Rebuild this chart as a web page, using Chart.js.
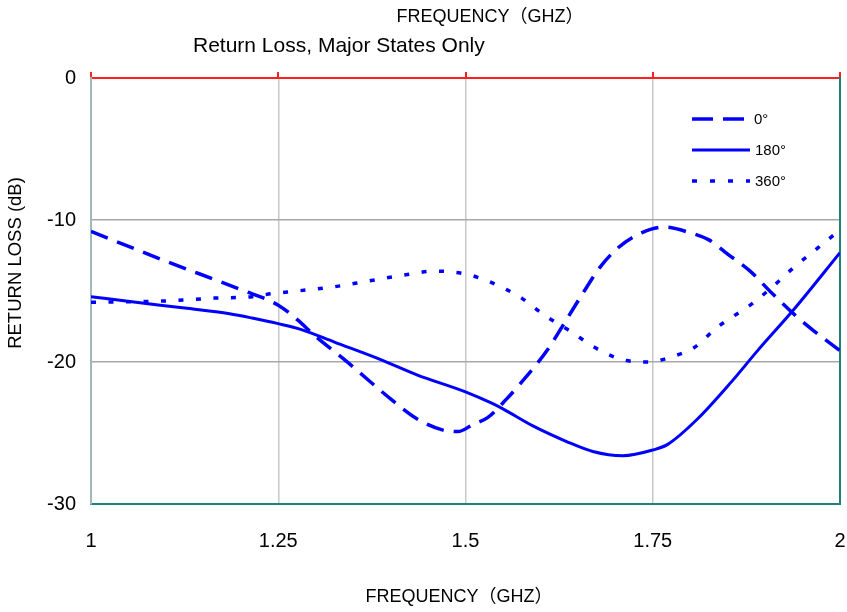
<!DOCTYPE html>
<html><head><meta charset="utf-8">
<script src="https://cdn.jsdelivr.net/npm/chart.js@4/dist/chart.umd.min.js"></script>
<style>html,body{margin:0;padding:0;background:#fff;}#wrap{width:847px;height:612px;}</style>
</head><body><div id="wrap"><canvas id="c" width="847" height="612"></canvas></div>
<script>
// ---- data ----
const seriesNames = ['0°', '180°', '360°'];
const xTickValues = [1, 1.25, 1.5, 1.75, 2];
const xTickLabels = ['1', '1.25', '1.5', '1.75', '2'];
const yTickValues = [-30, -20, -10, 0];
const yTickLabels = ['-30', '-20', '-10', '0'];

const freq0 = [1.0, 1.1, 1.2, 1.25, 1.275, 1.3, 1.34, 1.4, 1.435, 1.47, 1.49, 1.51, 1.53, 1.555, 1.58, 1.61, 1.635, 1.655, 1.68, 1.705, 1.735, 1.765, 1.8, 1.825, 1.85, 1.88, 1.91, 1.94, 1.965, 2.0];
const rl0   = [-10.8, -12.9, -14.9, -16.0, -17.0, -18.2, -19.9, -22.6, -24.0, -24.8, -24.9, -24.4, -23.9, -22.6, -21.1, -19.1, -17.0, -15.3, -13.3, -11.9, -10.9, -10.5, -10.9, -11.4, -12.4, -13.6, -15.2, -16.7, -17.8, -19.2];

const freq180 = [1.0, 1.06, 1.125, 1.185, 1.215, 1.25, 1.28, 1.325, 1.39, 1.435, 1.5, 1.535, 1.55, 1.59, 1.635, 1.67, 1.71, 1.75, 1.77, 1.81, 1.855, 1.89, 1.94, 2.0];
const rl180   = [-15.4, -15.8, -16.2, -16.6, -16.9, -17.3, -17.7, -18.6, -19.9, -20.9, -22.1, -22.9, -23.3, -24.5, -25.6, -26.3, -26.6, -26.2, -25.8, -24.0, -21.4, -19.2, -16.2, -12.3];

const freq360 = [1.0, 1.1, 1.165, 1.215, 1.24, 1.275, 1.325, 1.37, 1.415, 1.46, 1.5, 1.53, 1.555, 1.575, 1.595, 1.617, 1.636, 1.68, 1.715, 1.745, 1.777, 1.805, 1.835, 1.857, 1.88, 1.91, 1.937, 1.972, 2.0];
const rl360   = [-15.8, -15.7, -15.5, -15.4, -15.2, -15.0, -14.7, -14.3, -13.9, -13.6, -13.8, -14.3, -14.9, -15.5, -16.3, -17.1, -17.7, -19.2, -19.9, -20.0, -19.6, -19.0, -17.6, -16.8, -16.0, -14.7, -13.4, -11.9, -10.7];

const FONT = '"Liberation Sans", Arial, "Noto Sans CJK SC", sans-serif';
const pts = (xs, ys) => xs.map((x, i) => ({x: x, y: ys[i]}));

const legendPlugin = {
  id: 'customLegend',
  afterDatasetsDraw(chart) {
    const ctx = chart.ctx;
    const ys = [119, 150, 181];
    const dashes = [[21, 10], [], [5, 13]];
    chart.data.datasets.forEach((ds, i) => {
      ctx.save();
      ctx.strokeStyle = ds.borderColor;
      ctx.lineWidth = ds.borderWidth;
      ctx.setLineDash(dashes[i]);
      ctx.beginPath();
      ctx.moveTo(692, ys[i]);
      ctx.lineTo(i === 0 ? 745 : 750, ys[i]);
      ctx.stroke();
      ctx.setLineDash([]);
      ctx.fillStyle = '#000';
      ctx.font = '15px ' + FONT;
      ctx.textBaseline = 'middle';
      ctx.textAlign = 'left';
      ctx.fillText(ds.label, i === 0 ? 754 : 755, ys[i] + 1);
      ctx.restore();
    });
  }
};

const textPlugin = {
  id: 'texts',
  afterDraw(chart) {
    const ctx = chart.ctx;
    ctx.save();
    ctx.fillStyle = '#000';
    ctx.textBaseline = 'middle';
    ctx.textAlign = 'center';
    ctx.font = '18px ' + FONT;
    ctx.fillText('FREQUENCY（GHZ）', 490, 17);
    ctx.fillText('FREQUENCY（GHZ）', 459, 597);
    ctx.textAlign = 'left';
    ctx.font = '21px ' + FONT;
    ctx.fillText('Return Loss, Major States Only', 193, 46);
    ctx.translate(16, 263);
    ctx.rotate(-Math.PI / 2);
    ctx.textAlign = 'center';
    ctx.font = '18.5px ' + FONT;
    ctx.fillText('RETURN LOSS (dB)', 0, 0);
    ctx.restore();
  }
};

new Chart(document.getElementById('c'), {
  type: 'line',
  data: {
    datasets: [
      {label: seriesNames[0], data: pts(freq0, rl0), borderColor: '#0000ff', borderWidth: 3.5, borderDash: [18, 10], pointRadius: 0, cubicInterpolationMode: 'monotone', fill: false},
      {label: seriesNames[1], data: pts(freq180, rl180), borderColor: '#0000ff', borderWidth: 3, pointRadius: 0, cubicInterpolationMode: 'monotone', fill: false},
      {label: seriesNames[2], data: pts(freq360, rl360), borderColor: '#0000ff', borderWidth: 3.5, borderDash: [5, 12.5], pointRadius: 0, cubicInterpolationMode: 'monotone', fill: false}
    ]
  },
  options: {
    responsive: false,
    animation: false,
    devicePixelRatio: 1,
    layout: {padding: {top: 72, left: 0, right: 0, bottom: 0}},
    plugins: {legend: {display: false}, title: {display: false}, tooltip: {enabled: false}},
    scales: {
      x: {
        type: 'linear', position: 'bottom', min: 1, max: 2,
        afterBuildTicks: s => { s.ticks = xTickValues.map(v => ({value: v})); },
        afterFit: s => { s.height = 108; },
        ticks: {callback: (v) => xTickLabels[xTickValues.indexOf(v)], font: {size: 20, family: FONT}, color: '#000', padding: 0, maxRotation: 0, autoSkip: false},
        grid: {color: '#c8c8c8', lineWidth: 1.5, drawTicks: true, tickLength: 25, tickColor: 'rgba(0,0,0,0)'},
        border: {color: '#208080', width: 2}
      },
      xTop: {
        type: 'linear', position: 'top', min: 1, max: 2,
        afterBuildTicks: s => { s.ticks = xTickValues.map(v => ({value: v})); },
        afterFit: s => { s.height = 6; },
        ticks: {display: false},
        grid: {drawOnChartArea: false, drawTicks: true, tickLength: 6, color: '#ff2020', lineWidth: 2},
        border: {color: '#ff2020', width: 2}
      },
      y: {
        type: 'linear', position: 'left', min: -30, max: 0,
        afterBuildTicks: s => { s.ticks = yTickValues.map(v => ({value: v})); },
        afterFit: s => { s.width = 91; },
        ticks: {callback: (v) => yTickLabels[yTickValues.indexOf(v)], font: {size: 20, family: FONT}, color: '#000', padding: 15},
        grid: {color: '#a8a8a8', lineWidth: 1.5, drawTicks: false},
        border: {color: '#a0b8b8', width: 2}
      },
      yRight: {
        type: 'linear', position: 'right', min: -30, max: 0,
        afterFit: s => { s.width = 7; },
        ticks: {display: false},
        grid: {display: false, drawTicks: false},
        border: {color: '#208080', width: 2}
      }
    }
  },
  plugins: [legendPlugin, textPlugin]
});
</script>
</body></html>
